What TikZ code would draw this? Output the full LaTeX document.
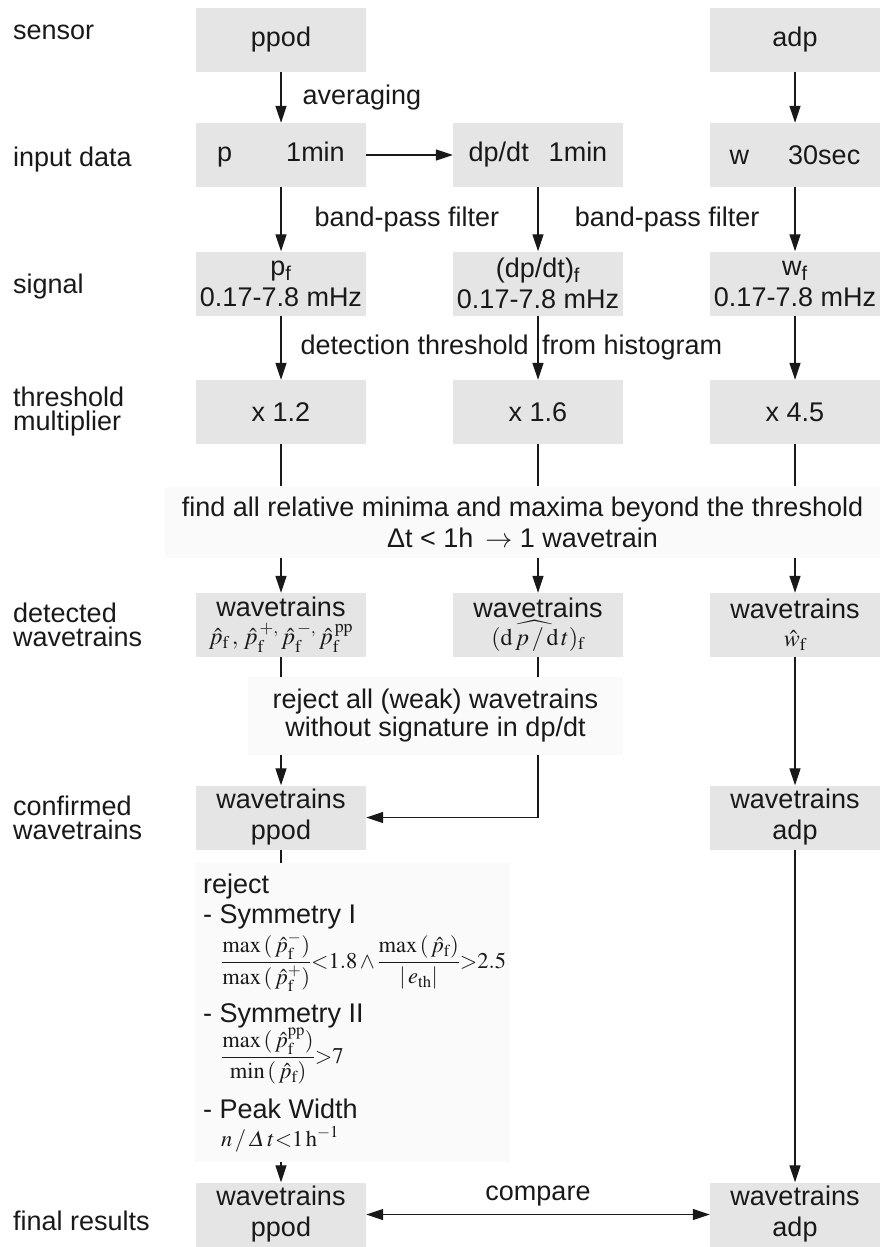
\documentclass[tikz,border=0pt]{standalone}
\usepackage{mathptmx}
\usepackage{amsmath}
\usepackage[no-math]{fontspec}
\setmainfont{Liberation Sans}
\usetikzlibrary{arrows.meta}
\definecolor{boxgray}{gray}{0.9}
\definecolor{notegray}{gray}{0.98}
\definecolor{ink}{gray}{0.1}
\newcommand{\bigtext}{\fontsize{27}{31}\selectfont}
\newcommand{\smallmath}{\fontsize{24}{28}\selectfont}
\newcommand{\critmath}{\fontsize{22.5}{27}\selectfont}
\tikzset{
	stage/.style={fill=boxgray,minimum width=170pt,minimum height=64pt,inner sep=0pt,align=center,font=\bigtext,text=ink},
	rowlabel/.style={anchor=base west,inner sep=0pt,align=left,font=\bigtext,text=ink},
	critline/.style={anchor=base west,inner sep=0pt,text=ink},
	note/.style={fill=notegray,inner sep=0pt,align=center,font=\bigtext,text=ink},
	lbl/.style={inner sep=0pt,font=\bigtext,text=ink},
	link/.style={draw=ink,line width=1.2pt},
	flow/.style={link,-{Triangle[length=17pt,width=11pt]}},
	twoway/.style={link,{Triangle[length=17pt,width=11pt]}-{Triangle[length=17pt,width=11pt]}}
}

\begin{document}
\begin{tikzpicture}[x=1pt,y=-1pt]
	\useasboundingbox (0,0) rectangle (881,1247);
	% row labels
	\node[rowlabel] (lsensor) at (13,40) {sensor};
	\node[rowlabel] (linput) at (13,166) {input data};
	\node[rowlabel] (lsignal) at (13,293) {signal};
	\node[rowlabel,anchor=west] (lthr) at (13,412) {threshold\\[-7pt]multiplier};
	\node[rowlabel,anchor=west] (ldet) at (13,625) {detected\\[-7pt]wavetrains};
	\node[rowlabel,anchor=west] (lconf) at (13,818) {confirmed\\[-7pt]wavetrains};
	\node[rowlabel] (lfin) at (13,1230) {final results};
	% boxes
	\node[stage] (ppod) at (281,40) {ppod};
	\node[stage] (adp) at (795,40) {adp};
	\node[stage] (pin) at (281,155) {p\hspace{54pt}1min};
	\node[stage] (din) at (538,155) {dp/dt\hspace{20pt}1min};
	\node[stage] (win) at (795,155) {w\hspace{39pt}30sec};
	\node[stage] (pf) at (281,283.5) {p\textsubscript{f}\\0.17-7.8 mHz};
	\node[stage] (dpf) at (538,283.5) {(dp/dt)\textsubscript{f}\\0.17-7.8 mHz};
	\node[stage] (wf) at (795,283.5) {w\textsubscript{f}\\0.17-7.8 mHz};
	\node[stage] (thr1) at (281,412) {x 1.2};
	\node[stage] (thr2) at (538,412) {x 1.6};
	\node[stage] (thr3) at (795,412) {x 4.5};
	\node[note,minimum width=715pt,minimum height=71pt] (find) at (522.5,522) {find all relative minima and maxima beyond the threshold\\Δt < 1h \,$\rightarrow$ 1 wavetrain};
	\node[stage] (det1) at (281,625) {wavetrains\\[-3pt]{\smallmath$\hat p_\mathrm{f}\,,\,\hat p_\mathrm{f}^{\,+,}\,\hat p_\mathrm{f}^{\,-,}\,\hat p_\mathrm{f}^{\,\mathrm{pp}}$}};
	\node[stage] (det2) at (538,625) {wavetrains\\[-3pt]{\smallmath$(\widehat{\mathrm{d}\,p\,/\,\mathrm{d}\,t})_\mathrm{f}$}};
	\node[stage] (det3) at (795,625) {wavetrains\\[-3pt]{\smallmath$\hat w_\mathrm{f}$}};
	\node[note,minimum width=375pt,minimum height=78pt] (rejall) at (435.5,716) {reject all (weak) wavetrains\\[-3pt]without signature in dp/dt};
	\node[stage] (conf1) at (281,817.5) {wavetrains\\ppod};
	\node[stage] (conf3) at (795,817.5) {wavetrains\\adp};
	% rejection criteria
	\node[note,anchor=north west,minimum width=315pt,minimum height=299pt] (crit) at (195,863) {};
	\node[critline,font=\bigtext] (rej) at (203,893) {reject};
	\node[critline,font=\bigtext] (sym1) at (203,923) {- Symmetry I};
	\node[critline,font=\critmath] (sym1f) at (221,968) {$\dfrac{\max\,(\,\hat p_\mathrm{f}^{-})}{\max\,(\,\hat p_\mathrm{f}^{+})}{<}1.8{\,\wedge\,}\dfrac{\max\,(\,\hat p_\mathrm{f})}{|\,e_\mathrm{th}|}{>}2.5$};
	\node[critline,font=\bigtext] (sym2) at (203,1022) {- Symmetry II};
	\node[critline,font=\critmath] (sym2f) at (221,1063) {$\dfrac{\max\,(\,\hat p_\mathrm{f}^{\mathrm{pp}})}{\min\,(\,\hat p_\mathrm{f})}{>}7$};
	\node[critline,font=\bigtext] (peak) at (203,1118) {- Peak Width};
	\node[critline,font=\critmath] (peakf) at (221,1146) {$n\,/\,\varDelta\,t{<}1\,\mathrm{h}^{-1}$};
	\node[stage] (fin1) at (281,1214.5) {wavetrains\\ppod};
	\node[stage] (fin3) at (795,1214.5) {wavetrains\\adp};
	% connectors
	\draw[flow] (ppod) -- node[lbl,anchor=west,xshift=21pt] {averaging} (pin);
	\draw[flow] (adp) -- (win);
	\draw[flow] (pin) -- (din);
	\draw[flow] (pin) -- node[lbl,anchor=west,xshift=33pt] {band-pass filter} (pf);
	\draw[flow] (din) -- (dpf);
	\draw[flow] (win) -- node[lbl,anchor=east,xshift=-35pt] {band-pass filter} (wf);
	\draw[flow] (pf) -- node[lbl,anchor=west,xshift=19pt] {detection threshold\hspace{6pt} from histogram} (thr1);
	\draw[flow] (dpf) -- (thr2);
	\draw[flow] (wf) -- (thr3);
	\draw[link] (thr1) -- (thr1 |- find.north);
	\draw[link] (thr2) -- (thr2 |- find.north);
	\draw[link] (thr3) -- (thr3 |- find.north);
	\draw[flow] (thr1 |- find.south) -- (det1);
	\draw[flow] (thr2 |- find.south) -- (det2);
	\draw[flow] (thr3 |- find.south) -- (det3);
	\draw[link] (det1) -- (det1 |- rejall.north);
	\draw[link] (det2) -- (det2 |- rejall.north);
	\draw[flow] (det1 |- rejall.south) -- (conf1);
	\draw[flow] (det2 |- rejall.south) |- (conf1);
	\draw[flow] (det3) -- (conf3);
	\draw[link] (conf1) -- (conf1 |- crit.north);
	\draw[flow] (conf1 |- crit.south) -- (fin1);
	\draw[flow] (conf3) -- (fin3);
	\draw[twoway] (fin1) -- node[lbl,above=8pt] {compare} (fin3);
\end{tikzpicture}
\end{document}
